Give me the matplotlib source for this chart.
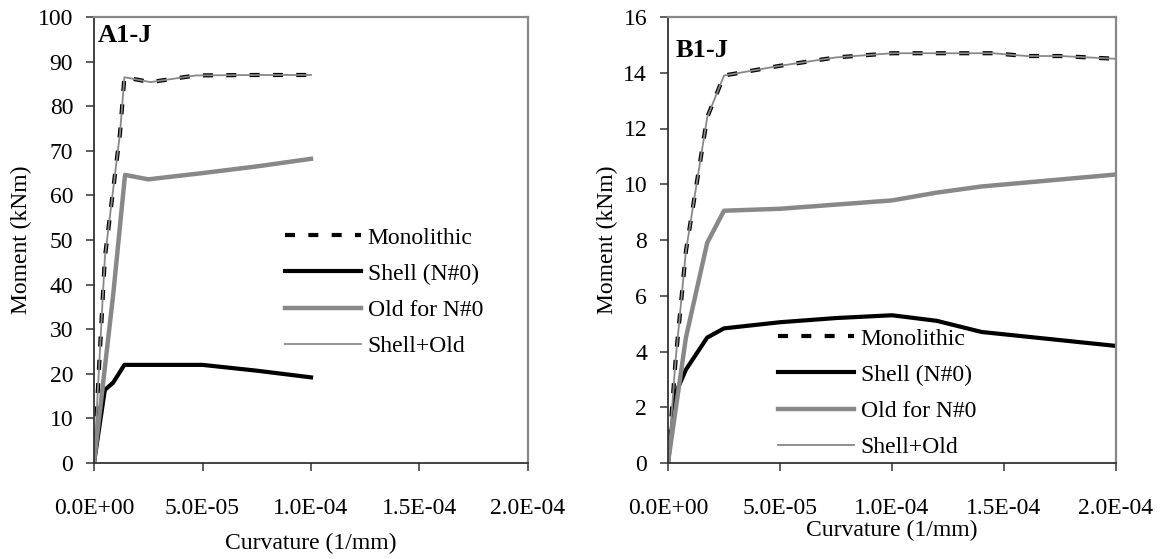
import matplotlib.pyplot as plt

plt.rcParams['font.family'] = ['Liberation Serif', 'DejaVu Serif']
plt.rcParams['font.size'] = 17

# ---- A1-J data (curvature 1/mm, moment kNm)
a_mono_x = [0, 5e-6, 1.2e-5, 1.4e-5, 2.6e-5, 4.7e-5, 7.5e-5, 1.0e-4]
a_mono_y = [0, 46, 74, 86.5, 85.4, 86.9, 87, 87]
a_shell_x = [0, 5e-6, 8.8e-6, 1.4e-5, 2.5e-5, 5.0e-5, 7.5e-5, 1.0e-4]
a_shell_y = [0, 16.4, 18, 22, 22, 22, 20.7, 19.2]
a_old_x = [0, 8.9e-6, 1.43e-5, 2.5e-5, 5.0e-5, 7.5e-5, 1.0e-4]
a_old_y = [0, 38, 64.6, 63.6, 65, 66.5, 68.2]
a_sum_x = [0, 5e-6, 1.2e-5, 1.4e-5, 2.6e-5, 4.7e-5, 7.5e-5, 1.0e-4]
a_sum_y = [0, 46, 74, 86.5, 85.4, 86.9, 87, 87]

# ---- B1-J data
b_mono_x = [0, 3.4e-6, 8e-6, 1.75e-5, 2.5e-5, 5.0e-5, 7.5e-5, 1.0e-4, 1.25e-4, 1.45e-4, 1.6e-4, 1.75e-4, 2.0e-4]
b_mono_y = [0, 3.7, 7.6, 12.4, 13.9, 14.25, 14.55, 14.7, 14.7, 14.7, 14.6, 14.6, 14.5]
b_shell_x = [0, 3.4e-6, 8e-6, 1.75e-5, 2.5e-5, 5.0e-5, 7.5e-5, 1.0e-4, 1.2e-4, 1.4e-4, 2.0e-4]
b_shell_y = [0, 2.5, 3.35, 4.5, 4.83, 5.05, 5.2, 5.3, 5.1, 4.7, 4.2]
b_old_x = [0, 8e-6, 1.75e-5, 2.5e-5, 5.0e-5, 7.5e-5, 1.0e-4, 1.2e-4, 1.4e-4, 2.0e-4]
b_old_y = [0, 4.5, 7.9, 9.05, 9.12, 9.27, 9.42, 9.7, 9.92, 10.35]
b_sum_x = b_mono_x
b_sum_y = b_mono_y

xticks = [0, 5e-5, 1e-4, 1.5e-4, 2e-4]
xticklabels = ['0.0E+00', '5.0E-05', '1.0E-04', '1.5E-04', '2.0E-04']
labels = ['Monolithic', 'Shell (N#0)', 'Old for N#0', 'Shell+Old']

fig = plt.figure(figsize=(11.63, 5.59), dpi=100)
W, H = 1163, 559


def make_axes(x0, x1):
    return fig.add_axes([x0 / W, 1 - 463 / H, (x1 - x0) / W, (463 - 17) / H])


def style(ax, ymax, ystep):
    ax.set_xlim(0, 2e-4)
    ax.set_ylim(0, ymax)
    ax.set_xticks(xticks)
    ax.set_xticklabels(xticklabels)
    ax.set_yticks(range(0, ymax + 1, ystep))
    for s in ['left', 'bottom']:
        ax.spines[s].set_color('#333333')
        ax.spines[s].set_linewidth(1.3)
    for s in ['top', 'right']:
        ax.spines[s].set_color('#888888')
        ax.spines[s].set_linewidth(1.6)
    ax.tick_params(direction='out', length=6, width=1.1, color='#333333')
    ax.tick_params(axis='y', pad=9)
    ax.tick_params(axis='x', pad=19)
    ax.set_ylabel('Moment (kNm)', fontsize=17)


def draw(ax, mx, my, sx, sy, ox, oy, tx, ty):
    ax.plot(mx, my, color='black', lw=3.0, dashes=(2.4, 3.2), label=labels[0])
    ax.plot(sx, sy, color='black', lw=3.0, label=labels[1])
    ax.plot(ox, oy, color='#888888', lw=3.2, label=labels[2])
    ax.plot(tx, ty, color='#888888', lw=1.3, label=labels[3])


leg_kw = dict(frameon=False, borderpad=0, borderaxespad=0, handlelength=3.2,
              handletextpad=0.3, labelspacing=0.62, fontsize=17)

ax1 = make_axes(94, 528)
draw(ax1, a_mono_x, a_mono_y, a_shell_x, a_shell_y, a_old_x, a_old_y, a_sum_x, a_sum_y)
style(ax1, 100, 10)
ax1.set_xlabel('Curvature (1/mm)', fontsize=17, labelpad=10)
ax1.text(0.008, 0.985, 'A1-J', transform=ax1.transAxes, fontsize=19,
         fontweight='bold', va='top', ha='left')
ax1.legend(loc='upper left', bbox_to_anchor=(285 / W, 1 - 227 / H),
           bbox_transform=fig.transFigure, **leg_kw)

ax2 = make_axes(668, 1116)
draw(ax2, b_mono_x, b_mono_y, b_shell_x, b_shell_y, b_old_x, b_old_y, b_sum_x, b_sum_y)
style(ax2, 16, 2)
ax2.set_xlabel('Curvature (1/mm)', fontsize=17, labelpad=1)
ax2.text(0.018, 0.95, 'B1-J', transform=ax2.transAxes, fontsize=19,
         fontweight='bold', va='top', ha='left')
ax2.legend(loc='upper left', bbox_to_anchor=(778 / W, 1 - 328 / H),
           bbox_transform=fig.transFigure, **leg_kw)

fig.savefig('out.png', dpi=100)
